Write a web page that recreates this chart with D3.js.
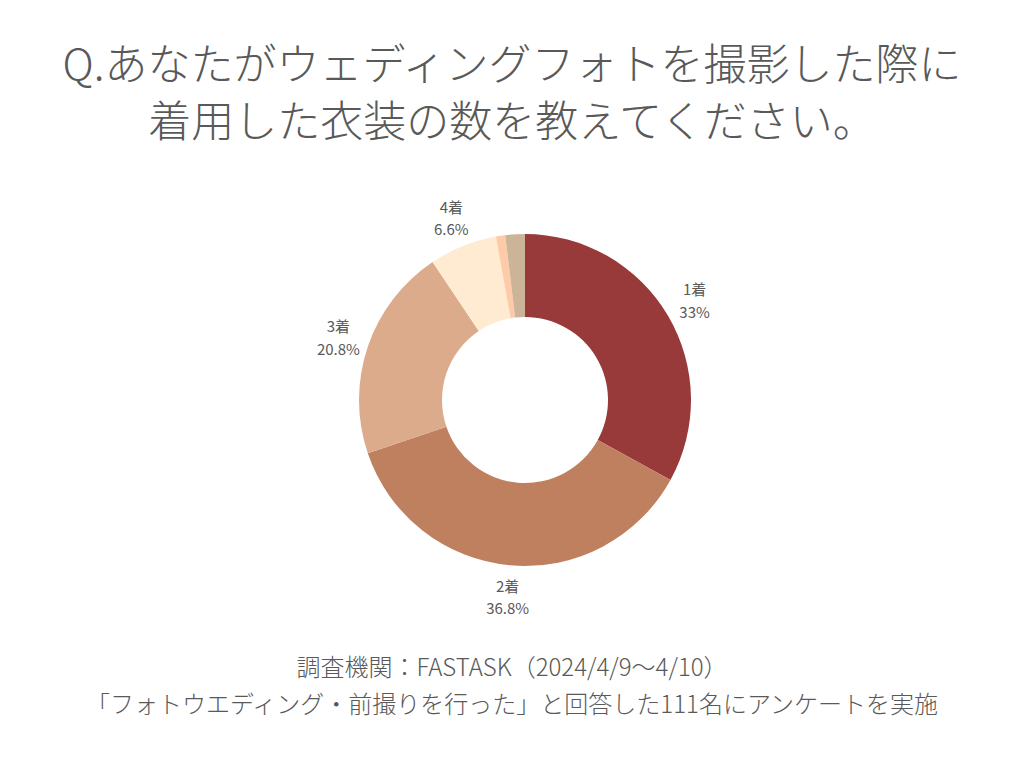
<!DOCTYPE html>
<html>
<head>
<meta charset="utf-8">
<script src="https://cdn.jsdelivr.net/npm/d3@7"></script>
<style>
  body { margin: 0; background: #fff; }
  text { font-family: "Noto Sans CJK JP", "Noto Sans", sans-serif; fill: #595959; }
</style>
</head>
<body>
<div id="chart"></div>
<script>
// データ
const categories = ["1着", "2着", "3着", "4着", "5着", "6着以上"]
const values = [33, 36.8, 20.8, 6.6, 0.9, 1.9]
const labels = ["33%", "36.8%", "20.8%", "6.6%", "", ""]
const colors = ["#983a3a", "#bf8060", "#dbab8b", "#ffebd2", "#fdcba8", "#cbb497"]

const titleLines = ["Q.あなたがウェディングフォトを撮影した際に", "着用した衣装の数を教えてください。"]
const footerLines = ["調査機関：FASTASK（2024/4/9〜4/10）", "「フォトウエディング・前撮りを行った」と回答した111名にアンケートを実施"]

let width = 1024, height = 768
let cx = 525, cy = 400
let outerR = 166, innerR = 83, labelR = 197

const svg = d3.select("#chart").append("svg")
    .attr("width", width)
    .attr("height", height)

// タイトル
svg.append("g").selectAll("text")
    .data(titleLines)
    .enter()
    .append("text")
    .attr("x", width / 2)
    .attr("y", (d, i) => 80 + i * 57)
    .attr("text-anchor", "middle")
    .style("font-size", "43px")
    .style("font-weight", 300)
    .text(d => d)

// ドーナツ
let data = categories.map((c, i) => ({ cat: c, value: values[i], label: labels[i], color: colors[i] }))
let pie = d3.pie().sort(null).value(d => d.value)
let arc = d3.arc().innerRadius(innerR).outerRadius(outerR)
let labelArc = d3.arc().innerRadius(labelR).outerRadius(labelR)

let g = svg.append("g").attr("transform", "translate(" + cx + "," + cy + ")")

g.selectAll("path")
    .data(pie(data))
    .enter()
    .append("path")
    .attr("d", arc)
    .attr("fill", d => d.data.color)

let lbl = g.selectAll(".lbl")
    .data(pie(data).filter(d => d.data.label != ""))
    .enter()
    .append("text")
    .attr("class", "lbl")
    .attr("text-anchor", "middle")
    .attr("transform", d => "translate(" + labelArc.centroid(d) + ")")
    .style("font-size", "15px")

lbl.append("tspan").attr("x", 0).attr("dy", "-0.3em").text(d => d.data.cat)
lbl.append("tspan").attr("x", 0).attr("dy", "1.5em").text(d => d.data.label)

// 出典
svg.append("g").selectAll("text")
    .data(footerLines)
    .enter()
    .append("text")
    .attr("x", width / 2)
    .attr("y", (d, i) => 676 + i * 37)
    .attr("text-anchor", "middle")
    .style("font-size", "24px")
    .style("font-weight", 300)
    .text(d => d)
</script>
</body>
</html>
